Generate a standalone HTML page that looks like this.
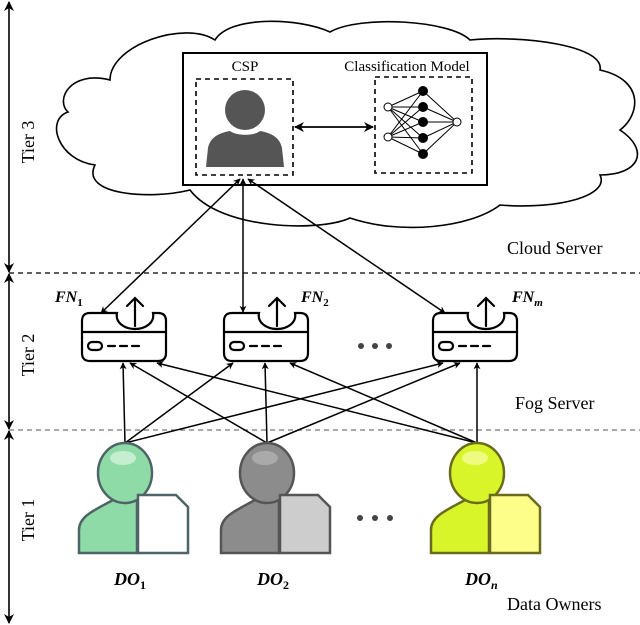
<!DOCTYPE html>
<html><head><meta charset="utf-8"><style>
html,body{margin:0;padding:0;background:#fff;}
svg{display:block;}
text{font-family:"Liberation Serif",serif;}
</style></head><body>
<svg width="640" height="625" viewBox="0 0 640 625" xmlns="http://www.w3.org/2000/svg">
<defs>
<marker id="a" viewBox="0 0 10 10" refX="9" refY="5" markerWidth="7" markerHeight="7" orient="auto-start-reverse" markerUnits="userSpaceOnUse"><path d="M0,0 L10,5 L0,10 L3,5 z" fill="#000"/></marker>
<marker id="b" viewBox="0 0 10 10" refX="9" refY="5" markerWidth="10" markerHeight="10" orient="auto-start-reverse" markerUnits="userSpaceOnUse"><path d="M0,0 L10,5 L0,10 L3,5 z" fill="#000"/></marker>
</defs>

<g stroke="#000" stroke-width="1.6">
<line x1="9" y1="2" x2="9" y2="272" marker-start="url(#b)" marker-end="url(#b)"/>
<line x1="9" y1="274" x2="9" y2="429" marker-start="url(#b)" marker-end="url(#b)"/>
<line x1="9" y1="431" x2="9" y2="623" marker-start="url(#b)" marker-end="url(#b)"/>
</g>
<g font-size="18" fill="#000">
<text transform="translate(34,142) rotate(-90)" text-anchor="middle">Tier 3</text>
<text transform="translate(34,355) rotate(-90)" text-anchor="middle">Tier 2</text>
<text transform="translate(34,520) rotate(-90)" text-anchor="middle">Tier 1</text>
</g>
<g stroke="#000" stroke-width="1.3" stroke-dasharray="5,4">
<line x1="9" y1="273" x2="640" y2="273"/>
<line x1="9" y1="430" x2="640" y2="430" stroke="#777"/>
</g>

<path d="M110,80 C70,70 55,100 68,112 C45,120 58,160 95,165 C80,195 150,200 190,190 C220,230 320,232 350,218 C400,235 470,228 500,205 C560,210 610,195 600,175 C640,175 650,150 620,130 C640,115 645,80 600,70 C605,45 520,35 470,40 C450,20 360,15 330,32 C300,18 230,15 215,40 C185,20 110,45 110,80 Z" fill="#fff" stroke="#000" stroke-width="1.6"/>
<rect x="183" y="53" width="304" height="132" fill="#fff" stroke="#000" stroke-width="2"/>
<text x="245" y="71" font-size="15" text-anchor="middle">CSP</text>
<text x="407" y="71" font-size="15" text-anchor="middle">Classification Model</text>
<rect x="196" y="79" width="97" height="96" fill="none" stroke="#000" stroke-width="1.6" stroke-dasharray="5,4"/>
<rect x="375" y="77" width="97" height="96" fill="none" stroke="#000" stroke-width="1.6" stroke-dasharray="5,4"/>
<circle cx="245" cy="110" r="20" fill="#555"/>
<path d="M206,167 L208,148 C210,138 218,133 230,131 C236,136 254,136 260,131 C272,133 280,138 282,148 L284,167 Z" fill="#555"/>
<line x1="295" y1="127" x2="373" y2="127" stroke="#000" stroke-width="1.8" marker-start="url(#b)" marker-end="url(#b)"/>
<g stroke="#000" stroke-width="1">
<line x1="388" y1="107" x2="423" y2="91"/><line x1="388" y1="107" x2="423" y2="107"/><line x1="388" y1="107" x2="423" y2="122"/><line x1="388" y1="107" x2="423" y2="138"/><line x1="388" y1="107" x2="423" y2="154"/>
<line x1="388" y1="137" x2="423" y2="91"/><line x1="388" y1="137" x2="423" y2="107"/><line x1="388" y1="137" x2="423" y2="122"/><line x1="388" y1="137" x2="423" y2="138"/><line x1="388" y1="137" x2="423" y2="154"/>
<line x1="457" y1="122" x2="423" y2="91"/><line x1="457" y1="122" x2="423" y2="107"/><line x1="457" y1="122" x2="423" y2="122"/><line x1="457" y1="122" x2="423" y2="138"/><line x1="457" y1="122" x2="423" y2="154"/>
<circle cx="388" cy="107" r="4" fill="#fff"/><circle cx="388" cy="137" r="4" fill="#fff"/><circle cx="457" cy="122" r="4" fill="#fff"/>
<circle cx="423" cy="91" r="4.5" fill="#000"/><circle cx="423" cy="107" r="4.5" fill="#000"/><circle cx="423" cy="122" r="4.5" fill="#000"/><circle cx="423" cy="138" r="4.5" fill="#000"/><circle cx="423" cy="154" r="4.5" fill="#000"/>
</g>

<g stroke="#000" stroke-width="1.5" fill="none">
<line x1="240" y1="179" x2="101" y2="313" marker-start="url(#a)" marker-end="url(#a)"/>
<line x1="243" y1="179" x2="243" y2="312" marker-start="url(#a)" marker-end="url(#a)"/>
<line x1="248" y1="179" x2="445" y2="313" marker-start="url(#a)" marker-end="url(#a)"/>
</g>

<g stroke="#000" stroke-width="2.2" fill="#fff" stroke-linecap="round">
<g id="fn" transform="translate(82,313)">
<path d="M8,0 L35,0 C33,10 43,16 53,16 C63,16 73,10 71,0 L76,0 Q84,0 84,8 L84,40 Q84,48 76,48 L8,48 Q0,48 0,40 L0,8 Q0,0 8,0 Z"/>
<line x1="0" y1="19" x2="84" y2="19"/>
<rect x="6" y="29" width="14" height="8" rx="4"/>
<line x1="26" y1="33" x2="33" y2="33"/><line x1="38" y1="33" x2="45" y2="33"/><line x1="50" y1="33" x2="57" y2="33"/>
<line x1="53" y1="13" x2="53" y2="-14"/><path d="M45,-7 L53,-15 L61,-7" fill="none"/>
</g>
<use href="#fn" transform="translate(142,0)"/>
<use href="#fn" transform="translate(351,0)"/>
</g>
<g font-size="16" font-style="italic" font-weight="600" fill="#000">
<text x="55" y="302">FN<tspan font-size="11" font-style="normal" dy="4">1</tspan></text>
<text x="301" y="302">FN<tspan font-size="11" font-style="normal" dy="4">2</tspan></text>
<text x="512" y="302">FN<tspan font-size="11" dy="4">m</tspan></text>
</g>
<g fill="#444"><circle cx="361" cy="346" r="3"/><circle cx="375" cy="346" r="3"/><circle cx="389" cy="346" r="3"/>
<circle cx="360" cy="518" r="3"/><circle cx="375" cy="518" r="3"/><circle cx="390" cy="518" r="3"/></g>

<g stroke="#000" stroke-width="1.5">
<line x1="125" y1="443" x2="123" y2="363" marker-end="url(#a)"/>
<line x1="125" y1="443" x2="233" y2="363" marker-end="url(#a)"/>
<line x1="125" y1="443" x2="443" y2="363" marker-end="url(#a)"/>
<line x1="267" y1="443" x2="130" y2="363" marker-end="url(#a)"/>
<line x1="267" y1="443" x2="265" y2="363" marker-end="url(#a)"/>
<line x1="267" y1="443" x2="460" y2="363" marker-end="url(#a)"/>
<line x1="477" y1="443" x2="157" y2="363" marker-end="url(#a)"/>
<line x1="477" y1="443" x2="290" y2="363" marker-end="url(#a)"/>
<line x1="477" y1="443" x2="477" y2="363" marker-end="url(#a)"/>
</g>

<g stroke-width="2.5">
<g transform="translate(125,0)">
<path d="M-46,553 L-46,530 C-46,516 -30,510 -12,500 L-12,490 L12,490 L12,553 Z" fill="#8fdba8" stroke="#4e6466"/>
<ellipse cx="0" cy="473" rx="27" ry="30" fill="#8fdba8" stroke="#4e6466"/>
<ellipse cx="-2" cy="458" rx="13" ry="7" fill="#c4eecf"/>
<path d="M13,495 L51,495 L63,507 L63,553 L13,553 Z" fill="#fff" stroke="#4e6466"/>
</g>
<g transform="translate(267,0)">
<path d="M-46,553 L-46,530 C-46,516 -30,510 -12,500 L-12,490 L12,490 L12,553 Z" fill="#8c8c8c" stroke="#555"/>
<ellipse cx="0" cy="473" rx="27" ry="30" fill="#8c8c8c" stroke="#555"/>
<ellipse cx="-2" cy="458" rx="13" ry="7" fill="#aaa"/>
<path d="M13,495 L51,495 L63,507 L63,553 L13,553 Z" fill="#cdcdcd" stroke="#555"/>
</g>
<g transform="translate(477,0)">
<path d="M-46,553 L-46,530 C-46,516 -30,510 -12,500 L-12,490 L12,490 L12,553 Z" fill="#d8f52a" stroke="#6b6b1e"/>
<ellipse cx="0" cy="473" rx="27" ry="30" fill="#d8f52a" stroke="#6b6b1e"/>
<ellipse cx="-2" cy="458" rx="13" ry="7" fill="#eefa80"/>
<path d="M13,495 L51,495 L63,507 L63,553 L13,553 Z" fill="#fdfd8a" stroke="#6b6b1e"/>
</g>
</g>
<g font-size="18" font-style="italic" font-weight="600" fill="#000">
<text x="114" y="585">DO<tspan font-size="12" font-style="normal" dy="4">1</tspan></text>
<text x="257" y="585">DO<tspan font-size="12" font-style="normal" dy="4">2</tspan></text>
<text x="465" y="585">DO<tspan font-size="12" dy="4">n</tspan></text>
</g>
<g font-size="18" fill="#000">
<text x="507" y="254">Cloud Server</text>
<text x="515" y="409">Fog Server</text>
<text x="507" y="610">Data Owners</text>
</g>
</svg>
</body></html>
